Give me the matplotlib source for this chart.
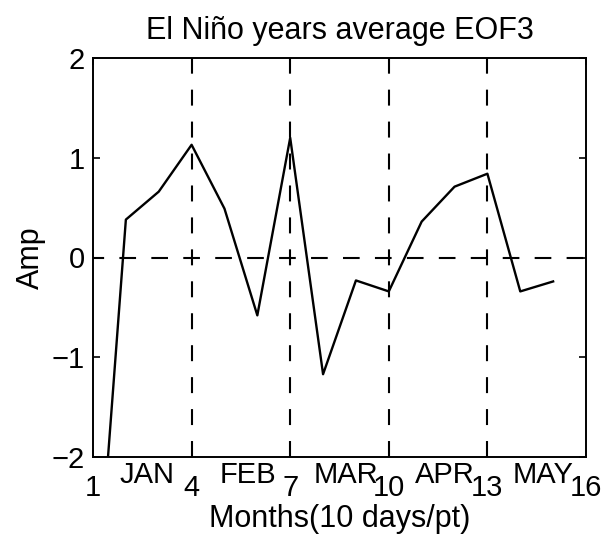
import matplotlib
matplotlib.use("Agg")
import matplotlib.pyplot as plt
import numpy as np

plt.rcParams['font.family'] = ['Liberation Sans', 'DejaVu Sans']
plt.rcParams['lines.scale_dashes'] = False

# 10-day points, Dec..May
pts = np.arange(1, 16)
amp = [-4.0, 0.38, 0.66, 1.13, 0.49, -0.58, 1.20, -1.17, -0.23, -0.34,
       0.36, 0.71, 0.84, -0.34, -0.24]

xticks = [1, 4, 7, 10, 13, 16]
yticks = [-2, -1, 0, 1, 2]
month_boundaries = [4, 7, 10, 13]
months = ["JAN", "FEB", "MAR", "APR", "MAY"]
month_pos = [2.65, 5.7, 8.7, 11.7, 14.7]

fig = plt.figure(figsize=(6.1, 5.4), dpi=100)
ax = fig.add_axes([93/610, 83/540, 493/610, 399/540])

ax.plot(pts, amp, color='black', lw=1.7)

ax.axhline(0, color='black', lw=1.5, linestyle=(4, (12, 11)))
for b in month_boundaries:
    ax.axvline(b, color='black', lw=1.5, linestyle=(0, (11.5, 11.5)))

ax.set_xlim(1, 16)
ax.set_ylim(-2, 2)
ax.set_xticks(xticks)
ax.set_yticks(yticks)
ax.set_yticklabels([str(v).replace('-', '\u2212') for v in yticks])
ax.tick_params(direction='in', length=5, width=1.2, top=True, right=True,
               labelsize=21, colors='black')
ax.tick_params(axis='x', pad=12)
ax.tick_params(axis='y', pad=6)
for s in ax.spines.values():
    s.set_linewidth(1.4)

# month names sit between the numeric ticks
trans = ax.get_xaxis_transform()
for m, xp in zip(months, month_pos):
    ax.text(xp, -0.045, m, transform=trans, ha='center', va='center', fontsize=21)

ax.set_title("El Niño years average EOF3", fontsize=22, pad=14)
ax.set_xlabel("Months(10 days/pt)", fontsize=22)
ax.xaxis.set_label_coords(0.5, -0.118)
ax.xaxis.label.set_va('top')
ax.set_ylabel("Amp", fontsize=22)
ax.yaxis.set_label_coords(-0.125, 0.5)
ax.yaxis.label.set_va('center')

plt.savefig("out.png", dpi=100)
